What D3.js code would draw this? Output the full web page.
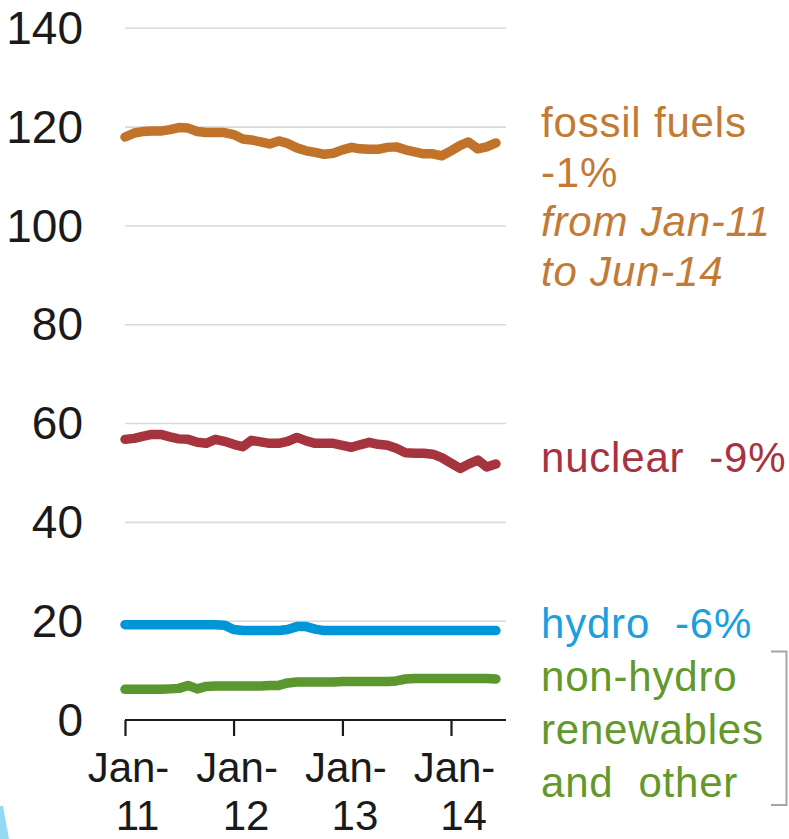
<!DOCTYPE html>
<html>
<head>
<meta charset="utf-8">
<script src="https://cdn.jsdelivr.net/npm/d3@7"></script>
<style>
  html, body { margin: 0; padding: 0; background: #fff; }
  svg { display: block; font-family: "Liberation Sans", Arial, sans-serif; }
</style>
</head>
<body>
<svg id="chart" width="789" height="839"></svg>
<script>
// ---- data (monthly, Jan-11 .. Jun-14) ----
const months = d3.range(42).map(i => new Date(2011, i, 1));
const fossil = [118.0,118.8,119.1,119.2,119.2,119.5,119.9,119.8,119.1,118.9,118.9,118.9,
                118.5,117.6,117.4,117.0,116.6,117.2,116.7,115.8,115.2,114.9,114.5,114.7,
                115.4,115.9,115.6,115.5,115.5,115.9,116.0,115.4,115.0,114.6,114.6,114.2,
                115.2,116.3,117.0,115.6,116.0,116.8];
const nuclear = [56.8,57.0,57.4,57.8,57.8,57.3,56.9,56.8,56.2,56.0,56.8,56.4,
                 55.8,55.3,56.6,56.3,56.0,56.0,56.4,57.2,56.5,56.0,56.0,56.0,
                 55.6,55.2,55.7,56.2,55.8,55.6,55.0,54.1,54.0,54.0,53.8,53.1,
                 52.0,50.9,51.8,52.6,51.2,51.8];
const hydro = [19.3,19.3,19.3,19.3,19.3,19.3,19.3,19.3,19.3,19.3,19.3,19.2,
               18.3,18.1,18.1,18.1,18.1,18.1,18.3,18.9,18.9,18.4,18.1,18.1,
               18.1,18.1,18.1,18.1,18.1,18.1,18.1,18.1,18.1,18.1,18.1,18.1,
               18.1,18.1,18.1,18.1,18.1,18.1];
const renewables = [6.2,6.2,6.2,6.2,6.2,6.3,6.4,7.0,6.3,6.8,6.9,6.9,
                    6.9,6.9,6.9,6.9,7.0,7.0,7.5,7.7,7.7,7.7,7.7,7.7,
                    7.8,7.8,7.8,7.8,7.8,7.8,7.9,8.3,8.4,8.4,8.4,8.4,
                    8.4,8.4,8.4,8.4,8.4,8.3];
const yTicks = [0, 20, 40, 60, 80, 100, 120, 140];
const xTicks = [new Date(2011,0,1), new Date(2012,0,1), new Date(2013,0,1), new Date(2014,0,1)];
const xTickLabels = [["Jan-","11"],["Jan-","12"],["Jan-","13"],["Jan-","14"]];

const series = [
  {name: "fossil", values: fossil, color: "#c07329"},
  {name: "nuclear", values: nuclear, color: "#a5343f"},
  {name: "hydro", values: hydro, color: "#0096d8"},
  {name: "renewables", values: renewables, color: "#5b962f"}
];

const labels = [
  {lines: [{t:"fossil fuels"},{t:"-1%"},{t:"from Jan-11", i:true},{t:"to Jun-14", i:true}], y: 137, dy: 49.5, color: "#c27a34"},
  {lines: [{t:"nuclear  -9%"}], y: 472, dy: 0, color: "#a8323e"},
  {lines: [{t:"hydro  -6%"}], y: 638, dy: 0, color: "#1a9fe0"},
  {lines: [{t:"non-hydro"},{t:"renewables"},{t:"and  other"}], y: 691, dy: 53, color: "#62982c"}
];

// ---- scales ----
const svg = d3.select("#chart");
const x = d3.scaleTime().domain([new Date(2011,0,1), new Date(2014,0,1)]).range([125, 451]);
const y = d3.scaleLinear().domain([0, 140]).range([720, 28.3]);

// decoration sliver at bottom left
svg.append("path").attr("d", "M0,806 L3,806 L9,839 L0,839 Z").attr("fill", "#95daf3");

// gridlines
svg.append("g").selectAll("line").data(yTicks.filter(d => d > 0)).join("line")
  .attr("x1", 125).attr("x2", 506)
  .attr("y1", d => y(d)).attr("y2", d => y(d))
  .attr("stroke", "#d9d9d9").attr("stroke-width", 1.6);

// y axis labels
const yAxis = d3.axisLeft(y).tickValues(yTicks).tickSize(0).tickPadding(0).tickFormat(d3.format("d"));
const gy = svg.append("g").attr("transform", "translate(83,0)").call(yAxis);
gy.select(".domain").remove();
gy.selectAll("text").attr("font-size", 46).attr("fill", "#1a1a1a")
  .attr("font-family", "Liberation Sans, Arial, sans-serif").attr("dy", "0.33em");

// x axis
const xAxis = d3.axisBottom(x).tickValues(xTicks).tickSize(16).tickSizeOuter(0).tickFormat("");
const gx = svg.append("g").attr("transform", "translate(0,720)").call(xAxis);
gx.select(".domain").attr("d", "M125,0H506").attr("stroke", "#1a1a1a").attr("stroke-width", 2.2);
gx.selectAll(".tick line").attr("stroke", "#1a1a1a").attr("stroke-width", 2.2);
gx.selectAll(".tick").each(function(d, i) {
  const t = d3.select(this).append("text")
    .attr("fill", "#1a1a1a").attr("font-size", 42).attr("text-anchor", "middle")
    .attr("font-family", "Liberation Sans, Arial, sans-serif");
  t.append("tspan").attr("x", 3).attr("y", 62).text(xTickLabels[i][0]);
  t.append("tspan").attr("x", 12).attr("y", 110).text(xTickLabels[i][1]);
});

// lines
const line = d3.line().x((d, i) => x(months[i])).y(d => y(d)).curve(d3.curveLinear);
svg.append("g").selectAll("path").data(series).join("path")
  .attr("d", s => line(s.values))
  .attr("fill", "none").attr("stroke", s => s.color)
  .attr("stroke-width", 9.5).attr("stroke-linecap", "round").attr("stroke-linejoin", "round");

// labels
labels.forEach(l => {
  const t = svg.append("text").attr("fill", l.color).attr("font-size", 42)
    .attr("letter-spacing", 0.8)
    .attr("font-family", "Liberation Sans, Arial, sans-serif");
  l.lines.forEach((ln, k) => {
    t.append("tspan").attr("x", 541).attr("y", l.y + k * l.dy)
      .attr("font-style", ln.i ? "italic" : null)
      .attr("xml:space", "preserve")
      .text(ln.t);
  });
});

// bracket
svg.append("path").attr("d", "M771,651.5 H786.5 V805 H771")
  .attr("fill", "none").attr("stroke", "#a6a6a6").attr("stroke-width", 2);
</script>
</body>
</html>
